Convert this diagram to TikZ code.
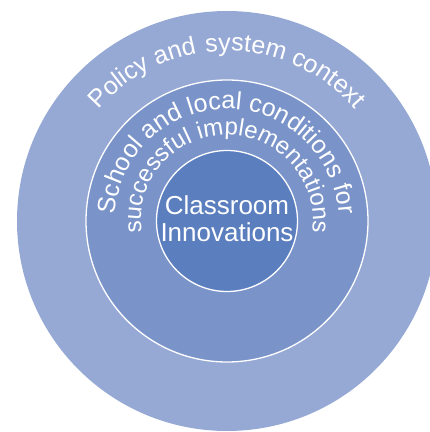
\documentclass[tikz,border=0pt]{standalone}
\usepackage{fontspec}
\setmainfont{Liberation Sans}
\usetikzlibrary{decorations.text,calc}

\definecolor{ringouter}{HTML}{96A9D5}
\definecolor{ringmid}{HTML}{7A94CA}
\definecolor{ringinner}{HTML}{5A7EBE}

\begin{document}
\begin{tikzpicture}[x=1pt,y=1pt,
  disc/.style={circle, inner sep=0pt, outer sep=0pt},
  ring/.style={disc, draw=white, line width=1.3pt},
  arctext/.style 2 args={decorate, font=#1, decoration={text along path, text align=center, text color=white, text={|#1|#2}}},
]
\useasboundingbox (0,0) rectangle (430,432);
\clip (0,0) rectangle (430,432);
\coordinate (c) at (227,211);

% three nested circles
\node[disc, minimum size=420pt, fill=ringouter] (outer) at (c) {};
\node[ring, minimum size=282pt, fill=ringmid] (middle) at (c) {};
\node[ring, minimum size=141pt, fill=ringinner] (inner) at (c) {};

% curved labels, centred on the top of each ring
\path[arctext={\fontsize{25}{29}\selectfont}{Policy and{\hspace{9pt}}system context}]
  ($(c)+(150:170)$) arc[start angle=150, end angle=30, radius=170];
\path[arctext={\fontsize{25}{29}\selectfont}{School and local conditions for}]
  ($(c)+(193:112)$) arc[start angle=193, end angle=-13, radius=112];
\path[arctext={\fontsize{24}{28}\selectfont}{successful implementations}]
  ($(c)+(200:86)$) arc[start angle=200, end angle=-20, radius=86];

% centre label
\node[text=white, align=center, font=\fontsize{26}{27}\selectfont] (core) at ($(c)+(0,2)$) {Classroom\\Innovations};
\end{tikzpicture}
\end{document}
